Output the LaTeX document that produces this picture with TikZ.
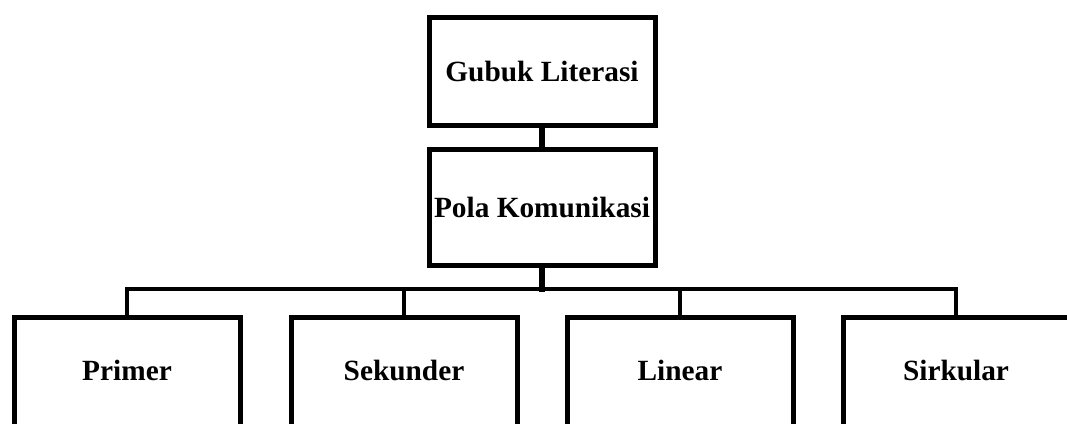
\documentclass[tikz,border=0pt]{standalone}
\usepackage{fontspec}
\setmainfont{Liberation Serif}
\begin{document}
\begin{tikzpicture}[x=0.75pt,y=-0.75pt, font=\fontsize{22}{26}\selectfont\bfseries, line join=miter, line cap=rect,
	kotak/.style={draw, line width=3.75pt, minimum width=169.5pt, text height=15pt, text depth=0pt}]
	\def\w{1067} \def\h{424} % ukuran gambar
	\def\ybus{289}
	\useasboundingbox (0,0) rectangle (\w,\h);
	\clip (0,0) rectangle (\w,\h);
	\node[kotak, minimum height=81pt] (gubuk) at (542,72) {Gubuk Literasi};
	\node[kotak, minimum height=86.25pt] (pola) at (542,207.5) {Pola Komunikasi};
	\coordinate (bus) at (542,\ybus);
	\draw[line width=5pt] (gubuk) -- (pola);
	\draw[line width=5pt] (pola) -- (bus);
	\foreach \s/\t/\n in {127/Primer/primer, 404/Sekunder/sekunder, 680/Linear/linear, 956/Sirkular/sirkular}{
		\node[kotak, anchor=north, minimum height=86.25pt, text depth=7pt] (\n) at (\s,315) {\t};
		\draw[line width=3.6pt] (bus) -| (\n);
	}
\end{tikzpicture}
\end{document}
